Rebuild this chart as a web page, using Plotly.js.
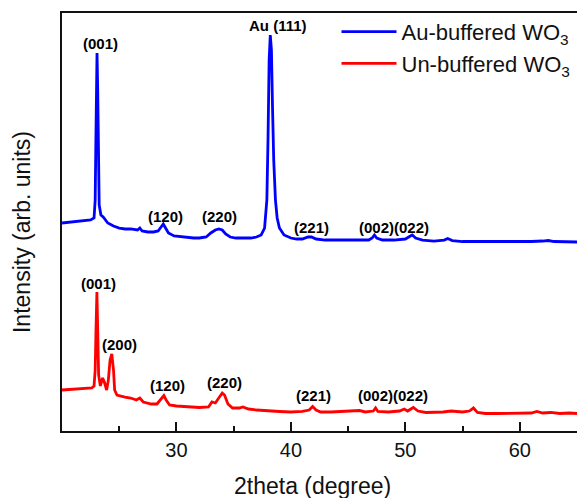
<!DOCTYPE html>
<html>
<head>
<meta charset="utf-8">
<script src="https://cdn.plot.ly/plotly-3.0.1.min.js"></script>
<style>html,body{margin:0;padding:0;background:#fff;}#chart{width:577px;height:498px;}</style>
</head>
<body>
<div id="chart"></div>
<script>
// 2theta (degree) and intensity (arb. units)
const blueTheta = [20.0,21.0,22.0,22.5,22.8,22.9,22.95,23.0,23.06,23.12,23.18,23.25,23.4,23.6,24.0,24.5,25.0,25.5,26.0,26.6,26.8,27.0,27.5,28.0,28.4,28.7,28.85,29.0,29.3,29.8,30.5,31.0,31.5,32.0,32.6,33.0,33.4,33.7,34.0,34.3,34.7,35.2,35.8,36.5,37.0,37.4,37.7,37.9,38.0,38.1,38.2,38.3,38.4,38.5,38.65,38.8,39.0,39.4,40.0,40.5,41.0,41.5,41.8,42.2,43.0,44.0,45.0,46.0,46.8,47.1,47.3,47.5,48.0,49.0,50.0,50.3,50.6,50.9,51.5,52.5,53.4,53.7,54.1,55.0,56.0,57.0,58.0,59.0,60.0,61.0,62.0,62.5,63.0,64.0,65.0];
const blueIntensity = [49.76,50.0,50.24,50.48,50.96,55.26,67.22,81.58,90.43,81.58,64.83,54.07,51.67,51.2,49.76,49.04,48.56,48.33,48.33,48.09,48.56,47.85,47.61,47.61,47.85,49.04,49.52,48.8,47.37,46.65,46.41,46.41,46.17,46.17,46.41,47.37,48.09,48.33,48.09,47.13,46.41,46.17,46.17,46.17,46.41,46.89,48.56,55.26,69.62,88.76,94.74,91.15,76.79,64.83,55.26,50.96,48.56,46.89,46.17,45.93,45.93,46.41,46.41,45.93,45.69,45.69,45.69,45.69,45.69,46.17,46.89,46.17,45.69,45.69,45.93,46.41,46.89,46.17,45.69,45.45,45.69,46.05,45.57,45.33,45.33,45.33,45.22,45.22,45.22,45.33,45.45,45.57,45.33,45.22,45.22];

const redTheta = [20.0,21.0,22.0,22.6,22.8,22.9,22.97,23.05,23.12,23.2,23.35,23.55,23.7,23.9,24.05,24.2,24.35,24.5,24.6,24.8,25.5,26.0,26.5,26.8,27.1,27.8,28.3,28.7,28.9,29.1,29.4,30.0,31.0,32.0,32.8,33.1,33.4,33.7,34.0,34.2,34.5,34.9,35.5,35.8,36.3,37.0,38.0,39.0,40.0,41.0,41.6,41.9,42.2,42.6,43.5,44.5,45.5,46.0,46.5,47.2,47.4,47.6,48.5,49.5,49.9,50.2,50.7,51.1,51.8,52.5,53.3,54.0,54.4,55.0,55.6,55.95,56.3,57.0,58.0,59.0,60.0,61.0,61.5,62.0,62.7,63.5,64.3,65.0];
const redIntensity = [9.81,10.05,10.29,10.29,10.77,14.59,24.16,33.25,24.16,13.4,10.77,12.68,11.72,9.81,12.2,16.99,18.42,14.59,9.81,8.61,8.13,7.89,7.42,7.89,6.94,6.46,6.46,7.66,8.49,7.42,6.22,5.98,5.74,5.62,5.74,6.94,6.7,7.89,9.09,8.61,6.46,5.5,5.5,5.74,5.26,5.02,4.78,4.67,4.55,4.67,5.02,5.86,5.02,4.55,4.55,4.67,4.78,4.9,4.55,4.78,5.5,4.67,4.55,4.78,5.26,4.78,5.62,4.78,4.43,4.43,4.55,4.78,4.67,4.55,4.78,5.5,4.43,4.19,4.19,4.19,4.19,4.31,4.67,4.31,4.43,4.19,4.31,4.19];

const seriesNames = ['Au-buffered WO<sub>3</sub>', 'Un-buffered WO<sub>3</sub>'];
const xTickValues = [30, 40, 50, 60];

// peak labels: text, 2theta, intensity position
const blueLabels = ['(001)', 'Au (111)', '(120)', '(220)', '(221)', '(002)(022)'];
const blueLabelTheta = [23.4, 38.85, 29.0, 33.8, 41.83, 49.0];
const blueLabelY = [92.8, 97.1, 51.4, 51.2, 48.8, 48.8];
const redLabels = ['(001)', '(200)', '(120)', '(220)', '(221)', '(002)(022)'];
const redLabelTheta = [23.2, 25.03, 29.23, 34.23, 41.94, 48.95];
const redLabelY = [35.4, 20.8, 11.0, 11.56, 8.6, 8.6];

const FONT = 'Arial, "Liberation Sans", sans-serif';

const traces = [
  {x: blueTheta, y: blueIntensity, type: 'scatter', mode: 'lines', name: seriesNames[0],
   line: {color: '#0000ff', width: 2.8}},
  {x: redTheta, y: redIntensity, type: 'scatter', mode: 'lines', name: seriesNames[1],
   line: {color: '#ff0000', width: 2.8}}
];

const annotations = [];
function addLabels(texts, xs, ys) {
  texts.forEach((t, i) => annotations.push({
    x: xs[i], y: ys[i], xref: 'x', yref: 'y', text: '<b>' + t + '</b>', showarrow: false,
    xanchor: 'center', yanchor: 'middle', font: {family: FONT, size: 15, color: '#000'}
  }));
}
addLabels(blueLabels, blueLabelTheta, blueLabelY);
addLabels(redLabels, redLabelTheta, redLabelY);
annotations.push({
  text: '2theta (degree)', xref: 'paper', yref: 'paper', x: 0.486, y: -0.1316,
  xanchor: 'center', yanchor: 'middle', showarrow: false,
  font: {family: FONT, size: 23, color: '#111'}
});
annotations.push({
  text: 'Intensity (arb. units)', xref: 'paper', yref: 'paper', x: -0.0777, y: 0.476,
  xanchor: 'center', yanchor: 'middle', textangle: -90, showarrow: false,
  font: {family: FONT, size: 23, color: '#111'}
});

const layout = {
  width: 577, height: 498,
  margin: {l: 62, r: 0, t: 13, b: 67},
  paper_bgcolor: '#fff', plot_bgcolor: '#fff',
  showlegend: true,
  legend: {x: 0.533, y: 1.005, xanchor: 'left', yanchor: 'top', bgcolor: 'rgba(0,0,0,0)',
    font: {family: FONT, size: 22, color: '#111'}, itemwidth: 55, tracegroupgap: 0},
  xaxis: {
    range: [20, 65], showgrid: false, zeroline: false,
    showline: true, linecolor: '#111', linewidth: 2, mirror: true,
    tickmode: 'array', tickvals: xTickValues, ticktext: xTickValues.map(String),
    ticks: 'inside', ticklen: 9, tickwidth: 2, tickcolor: '#111',
    tickfont: {family: FONT, size: 20, color: '#111'},
    minor: {tickvals: [25, 35, 45, 55], ticks: 'inside', ticklen: 5, tickwidth: 2, tickcolor: '#111', showgrid: false}
  },
  yaxis: {
    range: [0, 100], showgrid: false, zeroline: false,
    showline: true, linecolor: '#111', linewidth: 2, mirror: false,
    showticklabels: false, ticks: ''
  },
  annotations: annotations
};

Plotly.newPlot('chart', traces, layout, {displayModeBar: false, staticPlot: true});
</script>
</body>
</html>
